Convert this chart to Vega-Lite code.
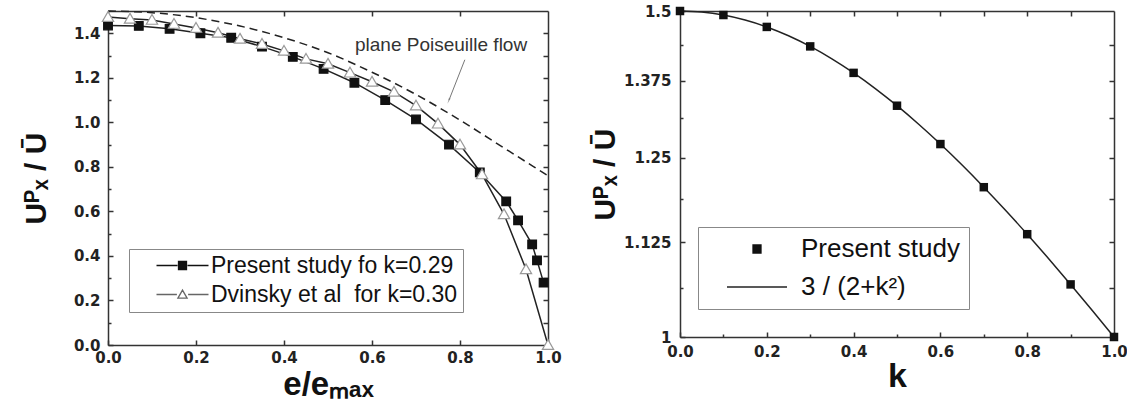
{
  "$schema": "https://vega.github.io/schema/vega-lite/v6.json",
  "padding": {"left": 21, "top": 4, "right": 0, "bottom": 0},
  "config": {
    "view": {"stroke": null},
    "font": "Liberation Sans",
    "axis": {
      "grid": false,
      "domainColor": "#333",
      "domainWidth": 1.5,
      "tickColor": "#333",
      "tickWidth": 1.5,
      "tickSize": -5,
      "labelFlush": false,
      "labelFont": "DejaVu Sans",
      "labelFontWeight": "bold",
      "labelFontSize": 15,
      "labelColor": "#222",
      "labelPadding": 13,
      "titleFont": "Liberation Sans",
      "titleFontWeight": "bold",
      "titleColor": "#111"
    }
  },
  "datasets": {
    "left": [
      {"series": "Present study fo k=0.29", "x": 0.0, "y": 1.435},
      {"series": "Present study fo k=0.29", "x": 0.07, "y": 1.433},
      {"series": "Present study fo k=0.29", "x": 0.14, "y": 1.42},
      {"series": "Present study fo k=0.29", "x": 0.21, "y": 1.40},
      {"series": "Present study fo k=0.29", "x": 0.28, "y": 1.38},
      {"series": "Present study fo k=0.29", "x": 0.35, "y": 1.34},
      {"series": "Present study fo k=0.29", "x": 0.42, "y": 1.294},
      {"series": "Present study fo k=0.29", "x": 0.49, "y": 1.24},
      {"series": "Present study fo k=0.29", "x": 0.56, "y": 1.178},
      {"series": "Present study fo k=0.29", "x": 0.63, "y": 1.10},
      {"series": "Present study fo k=0.29", "x": 0.70, "y": 1.013},
      {"series": "Present study fo k=0.29", "x": 0.775, "y": 0.90},
      {"series": "Present study fo k=0.29", "x": 0.845, "y": 0.775},
      {"series": "Present study fo k=0.29", "x": 0.905, "y": 0.645},
      {"series": "Present study fo k=0.29", "x": 0.932, "y": 0.56},
      {"series": "Present study fo k=0.29", "x": 0.964, "y": 0.452},
      {"series": "Present study fo k=0.29", "x": 0.975, "y": 0.38},
      {"series": "Present study fo k=0.29", "x": 0.99, "y": 0.28},
      {"series": "Dvinsky et al\u00a0 for k=0.30", "x": 0.0, "y": 1.473},
      {"series": "Dvinsky et al\u00a0 for k=0.30", "x": 0.05, "y": 1.465},
      {"series": "Dvinsky et al\u00a0 for k=0.30", "x": 0.10, "y": 1.46},
      {"series": "Dvinsky et al\u00a0 for k=0.30", "x": 0.15, "y": 1.442},
      {"series": "Dvinsky et al\u00a0 for k=0.30", "x": 0.20, "y": 1.424},
      {"series": "Dvinsky et al\u00a0 for k=0.30", "x": 0.25, "y": 1.402},
      {"series": "Dvinsky et al\u00a0 for k=0.30", "x": 0.30, "y": 1.375},
      {"series": "Dvinsky et al\u00a0 for k=0.30", "x": 0.35, "y": 1.352},
      {"series": "Dvinsky et al\u00a0 for k=0.30", "x": 0.40, "y": 1.321},
      {"series": "Dvinsky et al\u00a0 for k=0.30", "x": 0.45, "y": 1.285},
      {"series": "Dvinsky et al\u00a0 for k=0.30", "x": 0.50, "y": 1.263},
      {"series": "Dvinsky et al\u00a0 for k=0.30", "x": 0.55, "y": 1.223},
      {"series": "Dvinsky et al\u00a0 for k=0.30", "x": 0.60, "y": 1.182},
      {"series": "Dvinsky et al\u00a0 for k=0.30", "x": 0.65, "y": 1.137},
      {"series": "Dvinsky et al\u00a0 for k=0.30", "x": 0.70, "y": 1.075},
      {"series": "Dvinsky et al\u00a0 for k=0.30", "x": 0.75, "y": 0.994},
      {"series": "Dvinsky et al\u00a0 for k=0.30", "x": 0.80, "y": 0.90},
      {"series": "Dvinsky et al\u00a0 for k=0.30", "x": 0.85, "y": 0.766},
      {"series": "Dvinsky et al\u00a0 for k=0.30", "x": 0.90, "y": 0.587},
      {"series": "Dvinsky et al\u00a0 for k=0.30", "x": 0.95, "y": 0.34},
      {"series": "Dvinsky et al\u00a0 for k=0.30", "x": 1.0, "y": 0.0},
      {"series": "plane Poiseuille flow", "x": 0.0, "y": 1.5},
      {"series": "plane Poiseuille flow", "x": 0.1, "y": 1.4925},
      {"series": "plane Poiseuille flow", "x": 0.2, "y": 1.47},
      {"series": "plane Poiseuille flow", "x": 0.3, "y": 1.4325},
      {"series": "plane Poiseuille flow", "x": 0.4, "y": 1.38},
      {"series": "plane Poiseuille flow", "x": 0.5, "y": 1.3125},
      {"series": "plane Poiseuille flow", "x": 0.6, "y": 1.225},
      {"series": "plane Poiseuille flow", "x": 0.7, "y": 1.125},
      {"series": "plane Poiseuille flow", "x": 0.8, "y": 1.01},
      {"series": "plane Poiseuille flow", "x": 0.9, "y": 0.885},
      {"series": "plane Poiseuille flow", "x": 1.0, "y": 0.76}
    ],
    "annotation": [
      {"label": "plane Poiseuille flow", "x": 0.757, "y": 1.348}
    ],
    "arrow": [
      {"x": 0.811, "y": 1.281, "x2": 0.775, "y2": 1.10}
    ],
    "rline": [
      {"k": 0.0, "u": 1.5},
      {"k": 0.05, "u": 1.49813},
      {"k": 0.1, "u": 1.49254},
      {"k": 0.15, "u": 1.48331},
      {"k": 0.2, "u": 1.47059},
      {"k": 0.25, "u": 1.45455},
      {"k": 0.3, "u": 1.43541},
      {"k": 0.35, "u": 1.41343},
      {"k": 0.4, "u": 1.38889},
      {"k": 0.45, "u": 1.36209},
      {"k": 0.5, "u": 1.33333},
      {"k": 0.55, "u": 1.30293},
      {"k": 0.6, "u": 1.27119},
      {"k": 0.65, "u": 1.23839},
      {"k": 0.7, "u": 1.20482},
      {"k": 0.75, "u": 1.17073},
      {"k": 0.8, "u": 1.13636},
      {"k": 0.85, "u": 1.10193},
      {"k": 0.9, "u": 1.06762},
      {"k": 0.95, "u": 1.03359},
      {"k": 1.0, "u": 1.0}
    ],
    "rpts": [
      {"series": "Present study", "k": 0.0, "u": 1.5},
      {"series": "Present study", "k": 0.1, "u": 1.4925},
      {"series": "Present study", "k": 0.2, "u": 1.4706},
      {"series": "Present study", "k": 0.3, "u": 1.4354},
      {"series": "Present study", "k": 0.4, "u": 1.3889},
      {"series": "Present study", "k": 0.5, "u": 1.3333},
      {"series": "Present study", "k": 0.6, "u": 1.2712},
      {"series": "Present study", "k": 0.7, "u": 1.2048},
      {"series": "Present study", "k": 0.8, "u": 1.1364},
      {"series": "Present study", "k": 0.9, "u": 1.0676},
      {"series": "Present study", "k": 1.0, "u": 1.0}
    ]
  },
  "spacing": 16,
  "resolve": {
    "scale": {"shape": "independent", "fill": "independent", "stroke": "independent"},
    "legend": {"shape": "independent", "fill": "independent", "stroke": "independent"}
  },
  "hconcat": [
    {
      "width": 440,
      "height": 334,
      "layer": [
        {
          "data": {"name": "left"},
          "transform": [{"filter": "datum.series !== 'plane Poiseuille flow'"}],
          "mark": {"type": "line", "color": "#222", "strokeWidth": 1.5},
          "encoding": {
            "x": {"field": "x", "type": "quantitative",
              "scale": {"domain": [0, 1], "nice": false, "zero": false},
              "axis": {"orient": "bottom", "values": [0, 0.2, 0.4, 0.6, 0.8, 1], "format": ".1f", "labelPadding": 10,
                "title": "e/eₘₐₓ", "titleFontSize": 33, "titlePadding": 3}},
            "y": {"field": "y", "type": "quantitative",
              "scale": {"domain": [0, 1.5], "nice": false},
              "axis": {"orient": "left", "values": [0, 0.2, 0.4, 0.6, 0.8, 1.0, 1.2, 1.4], "format": ".1f",
                "title": "Uᴾₓ / Ū", "titleFontSize": 30, "titlePadding": 22}},
            "detail": {"field": "series"}
          }
        },
        {
          "data": {"name": "left"},
          "transform": [{"filter": "datum.series === 'plane Poiseuille flow'"}],
          "mark": {"type": "line", "color": "#222", "strokeWidth": 1.5, "strokeDash": [8, 5], "interpolate": "monotone"},
          "encoding": {
            "x": {"field": "x", "type": "quantitative",
              "scale": {"domain": [0, 1], "nice": false, "zero": false},
              "axis": {"orient": "top", "values": [0.2, 0.4, 0.6, 0.8], "labels": false, "title": null}},
            "y": {"field": "y", "type": "quantitative",
              "scale": {"domain": [0, 1.5], "nice": false},
              "axis": {"orient": "right", "values": [0.1, 0.2, 0.3, 0.4, 0.5, 0.6, 0.7, 0.8, 0.9, 1.0, 1.1, 1.2, 1.3, 1.4], "labels": false, "title": null}}
          }
        },
        {
          "data": {"name": "left"},
          "transform": [{"filter": "datum.series !== 'plane Poiseuille flow'"}],
          "mark": {"type": "point", "filled": true, "strokeWidth": 1.2, "opacity": 1},
          "encoding": {
            "x": {"field": "x", "type": "quantitative",
              "scale": {"domain": [0, 1], "nice": false, "zero": false}, "axis": null},
            "y": {"field": "y", "type": "quantitative",
              "scale": {"domain": [0, 1.5], "nice": false},
              "axis": {"orient": "left", "values": [0.1, 0.3, 0.5, 0.7, 0.9, 1.1, 1.3], "labels": false, "title": null, "domain": false, "tickSize": -3}},
            "shape": {"condition": {"test": "datum.series === 'Present study fo k=0.29'", "value": "square"}, "value": "M0,-1.25L1.3,1H-1.3Z"},
            "fill": {"condition": {"test": "datum.series === 'Present study fo k=0.29'", "value": "#111"}, "value": "#ffffff"},
            "stroke": {"condition": {"test": "datum.series === 'Present study fo k=0.29'", "value": "#111"}, "value": "#999"},
            "size": {"value": 75}
          }
        },
        {
          "data": {"name": "left"},
          "transform": [{"filter": "datum.series !== 'plane Poiseuille flow'"}],
          "mark": {"type": "point", "filled": true, "opacity": 0},
          "encoding": {
            "x": {"field": "x", "type": "quantitative",
              "scale": {"domain": [0, 1], "nice": false, "zero": false}, "axis": null},
            "y": {"field": "y", "type": "quantitative",
              "scale": {"domain": [0, 1.5], "nice": false}, "axis": null},
            "shape": {"field": "series", "type": "nominal",
              "scale": {"domain": ["Present study fo k=0.29", "Dvinsky et al\u00a0 for k=0.30"],
                "range": ["M-6.5,0H-1.25M-1,-1H1V1H-1ZM1.25,0H6.5", "M-6.5,0H-1.4M0,-1.1L1.15,0.9H-1.15ZM1.4,0H6.5"]},
              "legend": {
                "orient": "none", "legendX": 21, "legendY": 238, "title": null,
                "strokeColor": "#888", "fillColor": "white", "padding": 5,
                "labelFont": "Liberation Sans", "labelFontSize": 23, "labelColor": "#111", "labelLimit": 500,
                "symbolSize": 64, "symbolOffset": 37, "labelOffset": 17, "rowPadding": 5,
                "symbolOpacity": 1, "symbolStrokeWidth": 1.3
              }},
            "fill": {"field": "series", "type": "nominal",
              "scale": {"domain": ["Present study fo k=0.29", "Dvinsky et al\u00a0 for k=0.30"], "range": ["#111", "#ffffff"]},
              "legend": {
                "orient": "none", "legendX": 21, "legendY": 238, "title": null,
                "strokeColor": "#888", "fillColor": "white", "padding": 5,
                "labelFont": "Liberation Sans", "labelFontSize": 23, "labelColor": "#111", "labelLimit": 500,
                "symbolSize": 64, "symbolOffset": 37, "labelOffset": 17, "rowPadding": 5,
                "symbolOpacity": 1, "symbolStrokeWidth": 1.3
              }},
            "stroke": {"field": "series", "type": "nominal",
              "scale": {"domain": ["Present study fo k=0.29", "Dvinsky et al\u00a0 for k=0.30"], "range": ["#111", "#666"]},
              "legend": {
                "orient": "none", "legendX": 21, "legendY": 238, "title": null,
                "strokeColor": "#888", "fillColor": "white", "padding": 5,
                "labelFont": "Liberation Sans", "labelFontSize": 23, "labelColor": "#111", "labelLimit": 500,
                "symbolSize": 64, "symbolOffset": 37, "labelOffset": 17, "rowPadding": 5,
                "symbolOpacity": 1, "symbolStrokeWidth": 1.3
              }},
            "size": {"value": 64}
          }
        },
        {
          "data": {"name": "arrow"},
          "mark": {"type": "rule", "color": "#777", "strokeWidth": 1},
          "encoding": {
            "x": {"field": "x", "type": "quantitative", "scale": {"domain": [0, 1], "nice": false, "zero": false}, "axis": null},
            "y": {"field": "y", "type": "quantitative", "scale": {"domain": [0, 1.5], "nice": false}, "axis": null},
            "x2": {"field": "x2"},
            "y2": {"field": "y2"}
          }
        },
        {
          "data": {"name": "arrow"},
          "mark": {"type": "point", "shape": "wedge", "filled": true, "color": "#777", "angle": 202, "size": 50},
          "encoding": {
            "x": {"field": "x2", "type": "quantitative", "scale": {"domain": [0, 1], "nice": false, "zero": false}, "axis": null},
            "y": {"field": "y2", "type": "quantitative", "scale": {"domain": [0, 1.5], "nice": false}, "axis": null}
          }
        },
        {
          "data": {"name": "annotation"},
          "mark": {"type": "text", "font": "Liberation Sans", "fontSize": 19, "color": "#333"},
          "encoding": {
            "x": {"field": "x", "type": "quantitative", "scale": {"domain": [0, 1], "nice": false, "zero": false}, "axis": null},
            "y": {"field": "y", "type": "quantitative", "scale": {"domain": [0, 1.5], "nice": false}, "axis": null},
            "text": {"field": "label"}
          }
        }
      ],
      "resolve": {"axis": {"x": "independent", "y": "independent"}}
    },
    {
      "width": 434,
      "height": 326,
      "layer": [
        {
          "data": {"name": "rline"},
          "mark": {"type": "line", "color": "#222", "strokeWidth": 1.5, "interpolate": "monotone"},
          "encoding": {
            "x": {"field": "k", "type": "quantitative",
              "scale": {"domain": [0, 1], "nice": false, "zero": false},
              "axis": {"orient": "bottom", "values": [0, 0.2, 0.4, 0.6, 0.8, 1], "format": ".1f", "labelPadding": 12,
                "title": "k", "titleFontSize": 34, "titlePadding": 0}},
            "y": {"field": "u", "type": "quantitative",
              "scale": {"type": "log", "domain": [1, 1.5], "nice": false, "zero": false},
              "axis": {"orient": "left", "values": [1, 1.125, 1.25, 1.375, 1.5], "format": "~g", "labelOverlap": false, "labelPadding": 14,
                "title": "Uᴾₓ / Ū", "titleFontSize": 30, "titlePadding": 3}}
          }
        },
        {
          "data": {"name": "rline"},
          "mark": {"type": "point", "opacity": 0},
          "encoding": {
            "x": {"field": "k", "type": "quantitative",
              "scale": {"domain": [0, 1], "nice": false, "zero": false},
              "axis": {"orient": "bottom", "values": [0.1, 0.3, 0.5, 0.7, 0.9], "labels": false, "title": null, "domain": false, "tickSize": -3}},
            "y": {"field": "u", "type": "quantitative",
              "scale": {"type": "log", "domain": [1, 1.5], "nice": false, "zero": false},
              "axis": {"orient": "left", "values": [1.0625, 1.1875, 1.3125, 1.4375], "labels": false, "title": null, "domain": false, "tickSize": -3}}
          }
        },
        {
          "data": {"name": "rpts"},
          "mark": {"type": "point", "filled": true, "color": "#111", "opacity": 1, "shape": "square"},
          "encoding": {
            "x": {"field": "k", "type": "quantitative",
              "scale": {"domain": [0, 1], "nice": false, "zero": false},
              "axis": {"orient": "top", "values": [0.1, 0.2, 0.3, 0.4, 0.5, 0.6, 0.7, 0.8, 0.9], "labels": false, "title": null}},
            "y": {"field": "u", "type": "quantitative",
              "scale": {"type": "log", "domain": [1, 1.5], "nice": false, "zero": false},
              "axis": {"orient": "right", "values": [1.0625, 1.125, 1.1875, 1.25, 1.3125, 1.375, 1.4375], "labels": false, "title": null}},
            "size": {"value": 72}
          }
        },
        {
          "data": {"name": "rpts"},
          "mark": {"type": "point", "filled": true, "opacity": 0},
          "encoding": {
            "x": {"field": "k", "type": "quantitative",
              "scale": {"domain": [0, 1], "nice": false, "zero": false}, "axis": null},
            "y": {"field": "u", "type": "quantitative",
              "scale": {"type": "log", "domain": [1, 1.5], "nice": false, "zero": false}, "axis": null},
            "shape": {"field": "series", "type": "nominal",
              "scale": {"domain": ["Present study", "3 / (2+k²)"], "range": ["M-1,-1H1V1H-1Z", "M-7.5,0H7.5"]},
              "legend": {
                "orient": "none", "legendX": 18, "legendY": 216, "title": null,
                "strokeColor": "#888", "fillColor": "white", "padding": 9,
                "labelFont": "Liberation Sans", "labelFontSize": 26, "labelColor": "#111", "labelLimit": 500,
                "symbolSize": 64, "symbolOffset": 37, "labelOffset": 31, "rowPadding": 12,
                "symbolOpacity": 1, "symbolStrokeWidth": 1.3
              }},
            "fill": {"field": "series", "type": "nominal",
              "scale": {"domain": ["Present study", "3 / (2+k²)"], "range": ["#111", "transparent"]},
              "legend": {
                "orient": "none", "legendX": 18, "legendY": 216, "title": null,
                "strokeColor": "#888", "fillColor": "white", "padding": 9,
                "labelFont": "Liberation Sans", "labelFontSize": 26, "labelColor": "#111", "labelLimit": 500,
                "symbolSize": 64, "symbolOffset": 37, "labelOffset": 31, "rowPadding": 12,
                "symbolOpacity": 1, "symbolStrokeWidth": 1.3
              }},
            "stroke": {"field": "series", "type": "nominal",
              "scale": {"domain": ["Present study", "3 / (2+k²)"], "range": ["#111", "#222"]},
              "legend": {
                "orient": "none", "legendX": 18, "legendY": 216, "title": null,
                "strokeColor": "#888", "fillColor": "white", "padding": 9,
                "labelFont": "Liberation Sans", "labelFontSize": 26, "labelColor": "#111", "labelLimit": 500,
                "symbolSize": 64, "symbolOffset": 37, "labelOffset": 31, "rowPadding": 12,
                "symbolOpacity": 1, "symbolStrokeWidth": 1.3
              }},
            "size": {"value": 64}
          }
        }
      ],
      "resolve": {"axis": {"x": "independent", "y": "independent"}}
    }
  ]
}
